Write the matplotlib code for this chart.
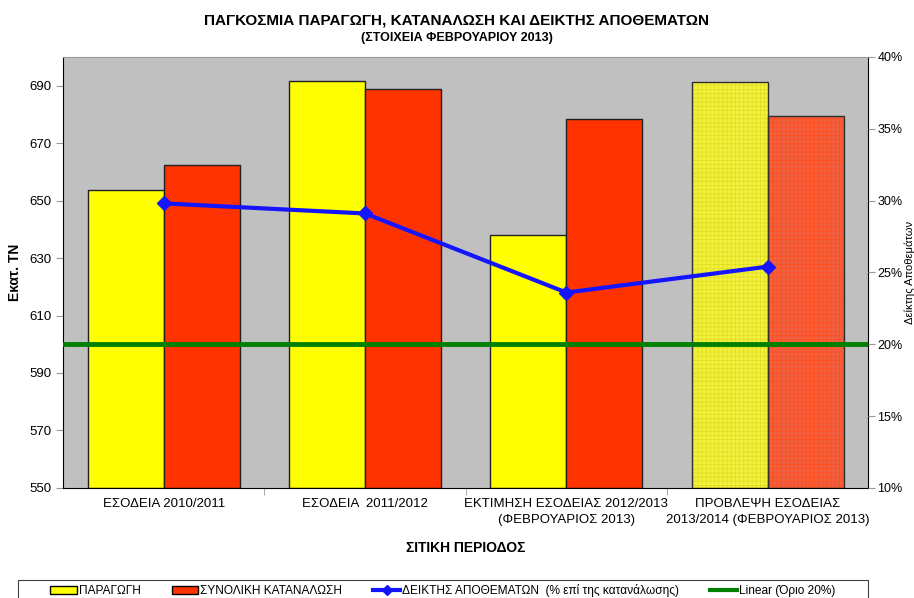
import numpy as np
import matplotlib.pyplot as plt
from matplotlib.lines import Line2D
from matplotlib.patches import Patch, Rectangle

plt.rcParams['font.family'] = ['Liberation Sans', 'DejaVu Sans']
plt.rcParams['hatch.linewidth'] = 0.6

# data
categories = ['ΕΣΟΔΕΙΑ 2010/2011', 'ΕΣΟΔΕΙΑ  2011/2012',
              'ΕΚΤΙΜΗΣΗ ΕΣΟΔΕΙΑΣ 2012/2013\n(ΦΕΒΡΟΥΑΡΙΟΣ 2013)',
              'ΠΡΟΒΛΕΨΗ ΕΣΟΔΕΙΑΣ\n2013/2014 (ΦΕΒΡΟΥΑΡΙΟΣ 2013)']
production = [653.7, 691.6, 638.1, 691.2]
consumption = [662.2, 688.8, 678.2, 679.4]
stock_ratio = [29.8, 29.1, 23.6, 25.4]
limit = 20

fig = plt.figure(figsize=(9.14, 5.98), dpi=100)
ax = fig.add_axes([0.069, 0.184, 0.881, 0.721])
ax.set_facecolor('#c0c0c0')

x = np.arange(len(categories))
w = 0.378
yel = '#ffff00'
red = '#ff3300'

for i in range(len(categories)):
    if i == 3:
        # forecast: hatched bars
        ax.bar(x[i] - w / 2, production[i] - 550, w, bottom=550, color='#f4f040',
               edgecolor='#e0e020', hatch='++++', linewidth=0, zorder=2)
        ax.bar(x[i] - w / 2, production[i] - 550, w, bottom=550, fill=False,
               edgecolor='#303030', linewidth=1, zorder=3)
        ax.bar(x[i] + w / 2, consumption[i] - 550, w, bottom=550, color='#f06040',
               edgecolor='#ff5020', hatch='++++', linewidth=0, zorder=2)
        ax.bar(x[i] + w / 2, consumption[i] - 550, w, bottom=550, fill=False,
               edgecolor='#303030', linewidth=1, zorder=3)
    else:
        ax.bar(x[i] - w / 2, production[i] - 550, w, bottom=550, color=yel,
               edgecolor='#202020', linewidth=1, zorder=2)
        ax.bar(x[i] + w / 2, consumption[i] - 550, w, bottom=550, color=red,
               edgecolor='#202020', linewidth=1, zorder=2)

ax.set_xlim(-0.5, 3.5)
ax.set_ylim(550, 700)
ax.set_yticks(np.arange(550, 691, 20))
ax.set_xticks(x)
ax.set_xticklabels(categories, fontsize=9.5, linespacing=1.45)
ax.set_xticks(np.arange(0.5, 3, 1), minor=True)
ax.tick_params(axis='x', which='major', length=0, pad=7)
ax.tick_params(axis='x', which='minor', length=5, color='#999999')
ax.tick_params(axis='y', labelsize=9.5, length=5, color='#999999')
ax.set_ylabel('Εκατ. ΤΝ', fontsize=10, fontweight='bold', va='center')
ax.yaxis.set_label_coords(-0.06, 0.5)
ax.set_xlabel('ΣΙΤΙΚΗ ΠΕΡΙΟΔΟΣ', fontsize=10, fontweight='bold', va='center')
ax.xaxis.set_label_coords(0.5, -0.139)
ax.spines['top'].set_color('#999999')
for s in ['left', 'bottom', 'right']:
    ax.spines[s].set_color('black')

ax2 = ax.twinx()
ax2.set_ylim(10, 40)
ax2.set_yticks(np.arange(10, 41, 5))
ax2.set_yticklabels([f'{v}%' for v in range(10, 41, 5)])
ax2.tick_params(axis='y', labelsize=9, length=5, pad=1.5, color='#999999')
ax2.axhline(limit, color='#008000', linewidth=3.5, zorder=4)
ax2.plot(x, stock_ratio, color='#1414ff', linewidth=3, marker='D',
         markersize=7, zorder=5)
ax2.set_ylabel('Δείκτης Αποθεμάτων', fontsize=8, va='center')
ax2.yaxis.set_label_coords(1.051, 0.5)
for s in ax2.spines.values():
    s.set_visible(False)

fig.text(0.5, 0.966, 'ΠΑΓΚΟΣΜΙΑ ΠΑΡΑΓΩΓΗ, ΚΑΤΑΝΑΛΩΣΗ ΚΑΙ ΔΕΙΚΤΗΣ ΑΠΟΘΕΜΑΤΩΝ',
         ha='center', va='center', fontsize=11, fontweight='bold')
fig.text(0.5, 0.937, '(ΣΤΟΙΧΕΙΑ ΦΕΒΡΟΥΑΡΙΟΥ 2013)', ha='center', va='center',
         fontsize=9, fontweight='bold')

# legend box (cut at the bottom edge like the original)
fig.patches.append(Rectangle((18 / 914, -0.02), 850 / 914, (598 - 580) / 598 + 0.02,
                             transform=fig.transFigure, fill=False,
                             edgecolor='#404040', linewidth=0.8))
handles = [
    Patch(facecolor=yel, edgecolor='black'),
    Patch(facecolor=red, edgecolor='black'),
    Line2D([], [], color='#1414ff', linewidth=3, marker='D', markersize=5),
    Line2D([], [], color='#008000', linewidth=3),
]
labels = ['ΠΑΡΑΓΩΓΗ', 'ΣΥΝΟΛΙΚΗ ΚΑΤΑΝΑΛΩΣΗ',
          'ΔΕΙΚΤΗΣ ΑΠΟΘΕΜΑΤΩΝ  (% επί της κατανάλωσης)', 'Linear (Όριο 20%)']
fig.legend(handles, labels, loc='center left', bbox_to_anchor=(50 / 914, 0.012),
           ncol=4, fontsize=8.6, frameon=False, handlelength=2.25,
           handletextpad=0.15, columnspacing=2.6, borderpad=0, borderaxespad=0)

fig.savefig('out.png', dpi=100)
